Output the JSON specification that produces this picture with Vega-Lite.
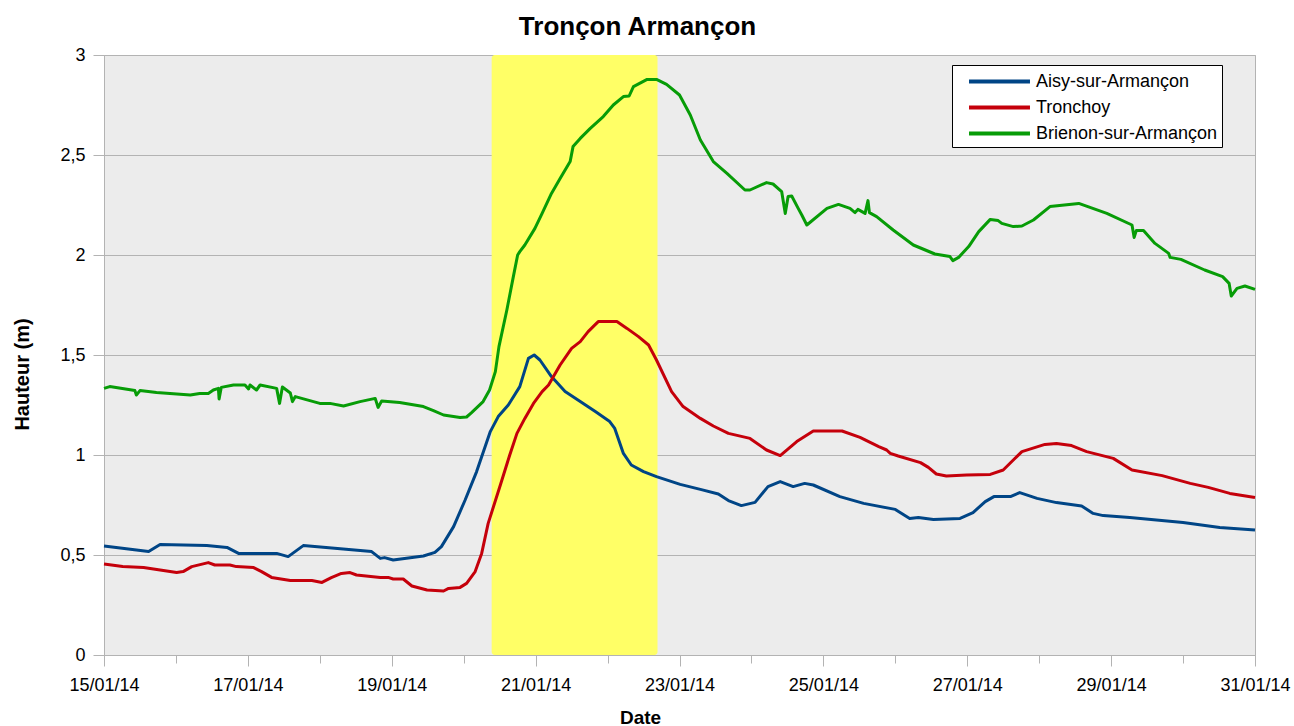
{
  "$schema": "https://vega.github.io/schema/vega-lite/v6.json",
  "width": 1151,
  "height": 600,
  "autosize": {"type": "none"},
  "padding": {"left": 104, "top": 55, "right": 39, "bottom": 71},
  "background": "white",
  "title": {"text": "Tronçon Armançon", "font": "Liberation Sans", "fontSize": 26, "fontWeight": "bold", "color": "black", "anchor": "middle", "dx": -42, "dy": 34, "offset": 19, "baseline": "alphabetic"},
  "config": {
    "view": {"fill": "#ececec", "stroke": "#b3b3b3", "strokeWidth": 1},
    "font": "Liberation Sans"
  },
  "datasets": {
    "aisy": [
      {"t": "2014-01-15T00:00", "h": 0.545}, {"t": "2014-01-15T14:53", "h": 0.517}, {"t": "2014-01-15T18:43", "h": 0.553},
      {"t": "2014-01-16T10:19", "h": 0.547}, {"t": "2014-01-16T17:02", "h": 0.538}, {"t": "2014-01-16T20:53", "h": 0.508},
      {"t": "2014-01-17T09:36", "h": 0.508}, {"t": "2014-01-17T13:26", "h": 0.492}, {"t": "2014-01-17T18:29", "h": 0.547},
      {"t": "2014-01-18T17:17", "h": 0.517}, {"t": "2014-01-18T20:10", "h": 0.483}, {"t": "2014-01-18T21:36", "h": 0.487},
      {"t": "2014-01-19T00:29", "h": 0.475}, {"t": "2014-01-19T10:34", "h": 0.495}, {"t": "2014-01-19T14:24", "h": 0.513},
      {"t": "2014-01-19T16:34", "h": 0.542}, {"t": "2014-01-19T20:38", "h": 0.642}, {"t": "2014-01-20T00:29", "h": 0.775},
      {"t": "2014-01-20T04:19", "h": 0.917}, {"t": "2014-01-20T08:53", "h": 1.117}, {"t": "2014-01-20T11:31", "h": 1.192},
      {"t": "2014-01-20T14:53", "h": 1.25}, {"t": "2014-01-20T18:43", "h": 1.342}, {"t": "2014-01-20T21:36", "h": 1.483},
      {"t": "2014-01-20T23:31", "h": 1.5}, {"t": "2014-01-21T01:26", "h": 1.475}, {"t": "2014-01-21T05:17", "h": 1.392},
      {"t": "2014-01-21T09:50", "h": 1.317}, {"t": "2014-01-21T14:53", "h": 1.267}, {"t": "2014-01-21T19:55", "h": 1.217},
      {"t": "2014-01-22T00:43", "h": 1.167}, {"t": "2014-01-22T02:24", "h": 1.133}, {"t": "2014-01-22T05:17", "h": 1.008},
      {"t": "2014-01-22T07:55", "h": 0.95}, {"t": "2014-01-22T12:00", "h": 0.917}, {"t": "2014-01-22T16:19", "h": 0.892},
      {"t": "2014-01-23T00:14", "h": 0.853}, {"t": "2014-01-23T06:58", "h": 0.828}, {"t": "2014-01-23T12:58", "h": 0.805},
      {"t": "2014-01-23T16:19", "h": 0.772}, {"t": "2014-01-23T20:38", "h": 0.747}, {"t": "2014-01-24T01:12", "h": 0.763},
      {"t": "2014-01-24T05:31", "h": 0.842}, {"t": "2014-01-24T09:36", "h": 0.867}, {"t": "2014-01-24T13:55", "h": 0.842},
      {"t": "2014-01-24T17:46", "h": 0.858}, {"t": "2014-01-24T20:38", "h": 0.85}, {"t": "2014-01-25T05:31", "h": 0.792},
      {"t": "2014-01-25T13:26", "h": 0.758}, {"t": "2014-01-26T00:00", "h": 0.728}, {"t": "2014-01-26T04:48", "h": 0.683},
      {"t": "2014-01-26T07:41", "h": 0.688}, {"t": "2014-01-26T12:43", "h": 0.678}, {"t": "2014-01-26T21:36", "h": 0.683},
      {"t": "2014-01-27T01:55", "h": 0.712}, {"t": "2014-01-27T06:00", "h": 0.767}, {"t": "2014-01-27T08:53", "h": 0.792},
      {"t": "2014-01-27T14:24", "h": 0.792}, {"t": "2014-01-27T17:31", "h": 0.812}, {"t": "2014-01-27T23:17", "h": 0.783},
      {"t": "2014-01-28T05:46", "h": 0.762}, {"t": "2014-01-28T14:10", "h": 0.745}, {"t": "2014-01-28T18:00", "h": 0.708},
      {"t": "2014-01-28T21:22", "h": 0.697}, {"t": "2014-01-29T06:14", "h": 0.688}, {"t": "2014-01-30T00:00", "h": 0.662},
      {"t": "2014-01-30T12:14", "h": 0.638}, {"t": "2014-01-31T00:00", "h": 0.625}
    ],
    "tronchoy": [
      {"t": "2014-01-15T00:00", "h": 0.455}, {"t": "2014-01-15T06:14", "h": 0.442}, {"t": "2014-01-15T13:12", "h": 0.437},
      {"t": "2014-01-15T18:43", "h": 0.425}, {"t": "2014-01-16T00:14", "h": 0.413}, {"t": "2014-01-16T02:24", "h": 0.417},
      {"t": "2014-01-16T05:17", "h": 0.442}, {"t": "2014-01-16T10:48", "h": 0.462}, {"t": "2014-01-16T12:58", "h": 0.45},
      {"t": "2014-01-16T18:00", "h": 0.45}, {"t": "2014-01-16T20:10", "h": 0.442}, {"t": "2014-01-17T01:55", "h": 0.437},
      {"t": "2014-01-17T04:34", "h": 0.417}, {"t": "2014-01-17T07:55", "h": 0.388}, {"t": "2014-01-17T14:10", "h": 0.372},
      {"t": "2014-01-17T21:22", "h": 0.372}, {"t": "2014-01-18T00:43", "h": 0.363}, {"t": "2014-01-18T03:50", "h": 0.387},
      {"t": "2014-01-18T07:12", "h": 0.408}, {"t": "2014-01-18T10:05", "h": 0.412}, {"t": "2014-01-18T12:14", "h": 0.4},
      {"t": "2014-01-18T20:10", "h": 0.388}, {"t": "2014-01-18T22:48", "h": 0.388}, {"t": "2014-01-19T00:29", "h": 0.38},
      {"t": "2014-01-19T03:50", "h": 0.38}, {"t": "2014-01-19T06:43", "h": 0.345}, {"t": "2014-01-19T11:46", "h": 0.325},
      {"t": "2014-01-19T17:17", "h": 0.32}, {"t": "2014-01-19T18:58", "h": 0.333}, {"t": "2014-01-19T22:48", "h": 0.338},
      {"t": "2014-01-20T00:58", "h": 0.358}, {"t": "2014-01-20T03:50", "h": 0.417}, {"t": "2014-01-20T06:00", "h": 0.508},
      {"t": "2014-01-20T08:10", "h": 0.658}, {"t": "2014-01-20T08:53", "h": 0.692}, {"t": "2014-01-20T12:14", "h": 0.85},
      {"t": "2014-01-20T15:22", "h": 1.0}, {"t": "2014-01-20T17:46", "h": 1.108}, {"t": "2014-01-20T20:24", "h": 1.183},
      {"t": "2014-01-20T23:17", "h": 1.258}, {"t": "2014-01-21T02:10", "h": 1.317}, {"t": "2014-01-21T04:19", "h": 1.35},
      {"t": "2014-01-21T08:10", "h": 1.45}, {"t": "2014-01-21T12:00", "h": 1.533}, {"t": "2014-01-21T14:53", "h": 1.567},
      {"t": "2014-01-21T17:31", "h": 1.617}, {"t": "2014-01-21T20:53", "h": 1.667}, {"t": "2014-01-22T03:07", "h": 1.667},
      {"t": "2014-01-22T06:29", "h": 1.633}, {"t": "2014-01-22T10:19", "h": 1.592}, {"t": "2014-01-22T13:41", "h": 1.55},
      {"t": "2014-01-22T16:19", "h": 1.475}, {"t": "2014-01-22T21:22", "h": 1.317}, {"t": "2014-01-23T01:12", "h": 1.242},
      {"t": "2014-01-23T06:58", "h": 1.183}, {"t": "2014-01-23T11:17", "h": 1.145}, {"t": "2014-01-23T16:19", "h": 1.108},
      {"t": "2014-01-23T23:31", "h": 1.083}, {"t": "2014-01-24T05:02", "h": 1.025}, {"t": "2014-01-24T09:36", "h": 0.997},
      {"t": "2014-01-24T15:07", "h": 1.067}, {"t": "2014-01-24T20:38", "h": 1.12}, {"t": "2014-01-25T06:14", "h": 1.12},
      {"t": "2014-01-25T12:14", "h": 1.088}, {"t": "2014-01-25T18:29", "h": 1.042}, {"t": "2014-01-25T21:07", "h": 1.025},
      {"t": "2014-01-25T22:19", "h": 1.008}, {"t": "2014-01-26T00:58", "h": 0.995}, {"t": "2014-01-26T08:24", "h": 0.962},
      {"t": "2014-01-26T11:02", "h": 0.938}, {"t": "2014-01-26T13:41", "h": 0.905}, {"t": "2014-01-26T17:02", "h": 0.895},
      {"t": "2014-01-26T23:46", "h": 0.9}, {"t": "2014-01-27T07:41", "h": 0.903}, {"t": "2014-01-27T12:00", "h": 0.925},
      {"t": "2014-01-27T15:22", "h": 0.975}, {"t": "2014-01-27T18:14", "h": 1.017}, {"t": "2014-01-28T01:55", "h": 1.053},
      {"t": "2014-01-28T05:46", "h": 1.058}, {"t": "2014-01-28T10:48", "h": 1.047}, {"t": "2014-01-28T15:50", "h": 1.017},
      {"t": "2014-01-29T00:43", "h": 0.983}, {"t": "2014-01-29T06:58", "h": 0.925}, {"t": "2014-01-29T17:02", "h": 0.897},
      {"t": "2014-01-30T02:24", "h": 0.858}, {"t": "2014-01-30T08:24", "h": 0.838}, {"t": "2014-01-30T15:36", "h": 0.808},
      {"t": "2014-01-31T00:00", "h": 0.788}
    ],
    "brienon": [
      {"t": "2014-01-15T00:00", "h": 1.333}, {"t": "2014-01-15T01:55", "h": 1.342}, {"t": "2014-01-15T10:19", "h": 1.322},
      {"t": "2014-01-15T10:48", "h": 1.3}, {"t": "2014-01-15T12:00", "h": 1.322}, {"t": "2014-01-15T17:31", "h": 1.312},
      {"t": "2014-01-16T04:48", "h": 1.3}, {"t": "2014-01-16T07:55", "h": 1.308}, {"t": "2014-01-16T10:48", "h": 1.308},
      {"t": "2014-01-16T12:29", "h": 1.325}, {"t": "2014-01-16T14:10", "h": 1.333}, {"t": "2014-01-16T14:24", "h": 1.28},
      {"t": "2014-01-16T15:07", "h": 1.338}, {"t": "2014-01-16T19:12", "h": 1.35}, {"t": "2014-01-16T23:02", "h": 1.35},
      {"t": "2014-01-17T00:14", "h": 1.33}, {"t": "2014-01-17T00:43", "h": 1.35}, {"t": "2014-01-17T02:53", "h": 1.325},
      {"t": "2014-01-17T04:05", "h": 1.35}, {"t": "2014-01-17T09:36", "h": 1.333}, {"t": "2014-01-17T10:34", "h": 1.258},
      {"t": "2014-01-17T11:31", "h": 1.34}, {"t": "2014-01-17T14:10", "h": 1.31}, {"t": "2014-01-17T14:53", "h": 1.267},
      {"t": "2014-01-17T15:50", "h": 1.292}, {"t": "2014-01-18T00:00", "h": 1.258}, {"t": "2014-01-18T03:22", "h": 1.258},
      {"t": "2014-01-18T07:55", "h": 1.245}, {"t": "2014-01-18T13:26", "h": 1.267}, {"t": "2014-01-18T18:29", "h": 1.283},
      {"t": "2014-01-18T19:26", "h": 1.238}, {"t": "2014-01-18T20:38", "h": 1.27}, {"t": "2014-01-19T02:38", "h": 1.262},
      {"t": "2014-01-19T10:34", "h": 1.242}, {"t": "2014-01-19T13:55", "h": 1.222}, {"t": "2014-01-19T17:17", "h": 1.2},
      {"t": "2014-01-19T22:48", "h": 1.188}, {"t": "2014-01-20T00:58", "h": 1.19}, {"t": "2014-01-20T02:38", "h": 1.212},
      {"t": "2014-01-20T06:29", "h": 1.267}, {"t": "2014-01-20T08:38", "h": 1.325}, {"t": "2014-01-20T10:34", "h": 1.417},
      {"t": "2014-01-20T11:46", "h": 1.542}, {"t": "2014-01-20T14:24", "h": 1.725}, {"t": "2014-01-20T16:34", "h": 1.892},
      {"t": "2014-01-20T18:00", "h": 2.0}, {"t": "2014-01-20T18:43", "h": 2.017}, {"t": "2014-01-20T20:24", "h": 2.05},
      {"t": "2014-01-20T23:46", "h": 2.133}, {"t": "2014-01-21T02:10", "h": 2.208}, {"t": "2014-01-21T05:17", "h": 2.308},
      {"t": "2014-01-21T08:10", "h": 2.383}, {"t": "2014-01-21T11:31", "h": 2.467}, {"t": "2014-01-21T12:29", "h": 2.542},
      {"t": "2014-01-21T14:53", "h": 2.583}, {"t": "2014-01-21T18:14", "h": 2.633}, {"t": "2014-01-21T22:34", "h": 2.692},
      {"t": "2014-01-22T01:55", "h": 2.75}, {"t": "2014-01-22T05:17", "h": 2.792}, {"t": "2014-01-22T07:12", "h": 2.795},
      {"t": "2014-01-22T08:38", "h": 2.842}, {"t": "2014-01-22T13:12", "h": 2.878}, {"t": "2014-01-22T16:19", "h": 2.878},
      {"t": "2014-01-22T19:41", "h": 2.853}, {"t": "2014-01-23T00:00", "h": 2.8}, {"t": "2014-01-23T03:36", "h": 2.7},
      {"t": "2014-01-23T06:58", "h": 2.575}, {"t": "2014-01-23T11:17", "h": 2.467}, {"t": "2014-01-23T15:50", "h": 2.408},
      {"t": "2014-01-23T21:50", "h": 2.325}, {"t": "2014-01-23T23:31", "h": 2.325}, {"t": "2014-01-24T05:02", "h": 2.362},
      {"t": "2014-01-24T07:12", "h": 2.355}, {"t": "2014-01-24T10:05", "h": 2.317}, {"t": "2014-01-24T11:17", "h": 2.208},
      {"t": "2014-01-24T12:14", "h": 2.292}, {"t": "2014-01-24T13:26", "h": 2.295}, {"t": "2014-01-24T15:36", "h": 2.233},
      {"t": "2014-01-24T16:48", "h": 2.2}, {"t": "2014-01-24T18:29", "h": 2.15}, {"t": "2014-01-25T01:12", "h": 2.233},
      {"t": "2014-01-25T05:02", "h": 2.253}, {"t": "2014-01-25T08:53", "h": 2.233}, {"t": "2014-01-25T10:34", "h": 2.212},
      {"t": "2014-01-25T11:31", "h": 2.228}, {"t": "2014-01-25T13:55", "h": 2.208}, {"t": "2014-01-25T14:53", "h": 2.272},
      {"t": "2014-01-25T15:22", "h": 2.212}, {"t": "2014-01-25T17:46", "h": 2.192}, {"t": "2014-01-25T23:17", "h": 2.125},
      {"t": "2014-01-26T06:00", "h": 2.05}, {"t": "2014-01-26T13:12", "h": 2.005}, {"t": "2014-01-26T18:14", "h": 1.992},
      {"t": "2014-01-26T19:12", "h": 1.972}, {"t": "2014-01-26T21:07", "h": 1.988}, {"t": "2014-01-27T00:29", "h": 2.042},
      {"t": "2014-01-27T03:50", "h": 2.117}, {"t": "2014-01-27T07:41", "h": 2.178}, {"t": "2014-01-27T10:19", "h": 2.172},
      {"t": "2014-01-27T11:31", "h": 2.158}, {"t": "2014-01-27T15:22", "h": 2.142}, {"t": "2014-01-27T18:14", "h": 2.145},
      {"t": "2014-01-27T22:05", "h": 2.175}, {"t": "2014-01-28T03:36", "h": 2.242}, {"t": "2014-01-28T13:12", "h": 2.258},
      {"t": "2014-01-28T22:34", "h": 2.208}, {"t": "2014-01-29T06:58", "h": 2.15}, {"t": "2014-01-29T07:41", "h": 2.088},
      {"t": "2014-01-29T08:24", "h": 2.122}, {"t": "2014-01-29T10:48", "h": 2.122}, {"t": "2014-01-29T14:38", "h": 2.058},
      {"t": "2014-01-29T19:12", "h": 2.008}, {"t": "2014-01-29T19:41", "h": 1.988}, {"t": "2014-01-29T23:17", "h": 1.978},
      {"t": "2014-01-30T07:12", "h": 1.925}, {"t": "2014-01-30T13:12", "h": 1.892}, {"t": "2014-01-30T15:22", "h": 1.858},
      {"t": "2014-01-30T16:05", "h": 1.795}, {"t": "2014-01-30T18:00", "h": 1.833}, {"t": "2014-01-30T20:38", "h": 1.845},
      {"t": "2014-01-31T00:00", "h": 1.828}
    ]
  },
  "layer": [
    {
      "data": {"values": [{"start": "2014-01-20T09:20", "end": "2014-01-22T16:40"}]},
      "mark": {"type": "rect", "color": "#ffff66", "cornerRadius": 3},
      "encoding": {
        "x": {
          "field": "start", "type": "temporal", "title": "Date",
          "scale": {"domain": [{"year": 2014, "month": 1, "date": 15}, {"year": 2014, "month": 1, "date": 31}]},
          "axis": {
            "values": [
              {"year": 2014, "month": 1, "date": 15}, {"year": 2014, "month": 1, "date": 16}, {"year": 2014, "month": 1, "date": 17},
              {"year": 2014, "month": 1, "date": 18}, {"year": 2014, "month": 1, "date": 19}, {"year": 2014, "month": 1, "date": 20},
              {"year": 2014, "month": 1, "date": 21}, {"year": 2014, "month": 1, "date": 22}, {"year": 2014, "month": 1, "date": 23},
              {"year": 2014, "month": 1, "date": 24}, {"year": 2014, "month": 1, "date": 25}, {"year": 2014, "month": 1, "date": 26},
              {"year": 2014, "month": 1, "date": 27}, {"year": 2014, "month": 1, "date": 28}, {"year": 2014, "month": 1, "date": 29},
              {"year": 2014, "month": 1, "date": 30}, {"year": 2014, "month": 1, "date": 31}
            ],
            "labelExpr": "(round((datum.value - datetime(2014,0,15))/86400000) % 2 == 0) ? timeFormat(datum.value, '%d/%m/%y') : ''",
            "tickSize": {"condition": {"test": "round((datum.value - datetime(2014,0,15))/86400000) % 2 == 0", "value": 11}, "value": 8},
            "grid": false,
            "domainColor": "#b3b3b3",
            "tickColor": "#b3b3b3",
            "labelFont": "Liberation Sans",
            "labelFontSize": 18,
            "labelColor": "black",
            "labelPadding": 10,
            "labelFlush": false,
            "labelOverlap": false,
            "titleFont": "Liberation Sans",
            "titleFontSize": 19,
            "titleFontWeight": "bold",
            "titleColor": "black",
            "titleX": 536,
            "titleY": 68,
            "titleAlign": "center",
            "titleBaseline": "alphabetic"
          }
        },
        "x2": {"field": "end"}
      }
    },
    {
      "data": {"name": "aisy"},
      "mark": {"type": "line", "strokeWidth": 3, "strokeJoin": "round"},
      "encoding": {
        "x": {"field": "t", "type": "temporal", "title": "Date"},
        "y": {
          "field": "h", "type": "quantitative", "title": "Hauteur (m)",
          "scale": {"domain": [0, 3], "nice": false},
          "axis": {
            "values": [0, 0.5, 1, 1.5, 2, 2.5, 3],
            "labelExpr": "replace(toString(datum.value), '.', ',')",
            "tickSize": 11,
            "gridColor": "#b3b3b3",
            "domainColor": "#b3b3b3",
            "tickColor": "#b3b3b3",
            "labelFont": "Liberation Sans",
            "labelFontSize": 18,
            "labelColor": "black",
            "labelPadding": 8,
            "titleFont": "Liberation Sans",
            "titleFontSize": 20,
            "titleFontWeight": "bold",
            "titleColor": "black",
            "titleAngle": -90,
            "titleX": -82,
            "titleY": 319,
            "titleAlign": "center",
            "titleBaseline": "middle"
          }
        },
        "color": {
          "datum": "Aisy-sur-Armançon",
          "scale": {"domain": ["Aisy-sur-Armançon", "Tronchoy", "Brienon-sur-Armançon"], "range": ["#004586", "#c5000b", "#079c07"]},
          "legend": {
            "orient": "none", "legendX": 848, "legendY": 10, "title": null,
            "fillColor": "white", "strokeColor": "black", "padding": 4,
            "symbolType": "M-3,0H3", "symbolSize": 413, "symbolStrokeWidth": 4, "symbolOffset": 31,
            "labelFont": "Liberation Sans", "labelFontSize": 18, "labelColor": "black", "labelOffset": 24, "labelLimit": 400, "rowPadding": 4
          }
        }
      }
    },
    {
      "data": {"name": "tronchoy"},
      "mark": {"type": "line", "strokeWidth": 3, "strokeJoin": "round"},
      "encoding": {
        "x": {"field": "t", "type": "temporal", "title": "Date"},
        "y": {"field": "h", "type": "quantitative", "title": "Hauteur (m)"},
        "color": {"datum": "Tronchoy"}
      }
    },
    {
      "data": {"name": "brienon"},
      "mark": {"type": "line", "strokeWidth": 3, "strokeJoin": "round"},
      "encoding": {
        "x": {"field": "t", "type": "temporal", "title": "Date"},
        "y": {"field": "h", "type": "quantitative", "title": "Hauteur (m)"},
        "color": {"datum": "Brienon-sur-Armançon"}
      }
    }
  ]
}
